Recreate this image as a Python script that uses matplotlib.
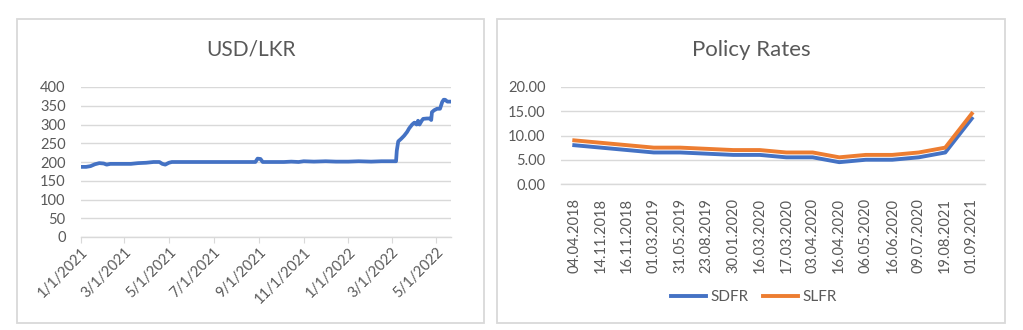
import matplotlib
matplotlib.use("Agg")
import matplotlib.pyplot as plt
from matplotlib.patches import Rectangle
import pandas as pd

plt.rcParams['font.family'] = ['Lato', 'DejaVu Sans']

# USD/LKR exchange rate
fx_dates = [
    "2021-01-01", "2021-01-08", "2021-01-14", "2021-01-20", "2021-01-26",
    "2021-02-01", "2021-02-05", "2021-02-10", "2021-02-20", "2021-03-01",
    "2021-03-10", "2021-03-20", "2021-03-31", "2021-04-10", "2021-04-18",
    "2021-04-22", "2021-04-26", "2021-05-01", "2021-05-05", "2021-05-20",
    "2021-06-10", "2021-07-01", "2021-07-20", "2021-08-10", "2021-08-27",
    "2021-08-30", "2021-09-03", "2021-09-06", "2021-09-20", "2021-10-05",
    "2021-10-15", "2021-10-25", "2021-11-01", "2021-11-15", "2021-12-01",
    "2021-12-15", "2022-01-01", "2022-01-15", "2022-02-01", "2022-02-15",
    "2022-03-07", "2022-03-08", "2022-03-10", "2022-03-14", "2022-03-18",
    "2022-03-22", "2022-03-25", "2022-03-29", "2022-04-01", "2022-04-04",
    "2022-04-06", "2022-04-08", "2022-04-11", "2022-04-13", "2022-04-18",
    "2022-04-22", "2022-04-24", "2022-04-25", "2022-04-28", "2022-05-02",
    "2022-05-06", "2022-05-09", "2022-05-11", "2022-05-13", "2022-05-16",
    "2022-05-21",
]
fx_values = [
    187, 187, 189, 194, 197,
    196, 193, 195, 195, 195,
    195, 197, 198, 200, 200,
    195, 193, 198, 200, 200,
    200, 200, 200, 200, 200,
    209, 208, 200, 200, 200,
    201, 200, 202, 201, 202,
    201, 201, 202, 201, 202,
    202, 230, 255, 262, 270,
    280, 290, 300, 305, 300,
    310, 300, 310, 315, 316,
    316, 312, 333, 338, 342,
    342, 360, 366, 366, 361,
    361,
]

# Central bank policy rates
rate_dates = [
    "04.04.2018", "14.11.2018", "16.11.2018", "01.03.2019", "31.05.2019",
    "23.08.2019", "30.01.2020", "16.03.2020", "17.03.2020", "03.04.2020",
    "16.04.2020", "06.05.2020", "16.06.2020", "09.07.2020", "19.08.2021",
    "01.09.2021",
]
sdfr = [8.0, 7.5, 7.0, 6.5, 6.5, 6.25, 6.0, 6.0, 5.5, 5.5,
        4.5, 5.0, 5.0, 5.5, 6.5, 13.5]
slfr = [9.0, 8.5, 8.0, 7.5, 7.5, 7.25, 7.0, 7.0, 6.5, 6.5,
        5.5, 6.0, 6.0, 6.5, 7.5, 14.5]

BLUE = "#4472C4"
ORANGE = "#ED7D31"
TXT = "#595959"
GRID = "#D9D9D9"

W, H = 1023, 330
fig = plt.figure(figsize=(W / 100, H / 100), dpi=100)


def fx(x0, y0, x1, y1):
    """Pixel box (top-left origin) to figure fraction rect."""
    return [x0 / W, 1 - y1 / H, (x1 - x0) / W, (y1 - y0) / H]


# Chart frames
for x0, x1 in [(17, 484), (497, 1005)]:
    fig.patches.append(Rectangle((x0 / W, 1 - 323 / H), (x1 - x0) / W, (323 - 19) / H,
                                 transform=fig.transFigure, fill=False,
                                 edgecolor=GRID, linewidth=1.3))


def style(ax):
    for s in ["top", "right", "left"]:
        ax.spines[s].set_visible(False)
    ax.spines["bottom"].set_color(GRID)
    ax.spines["bottom"].set_linewidth(1.0)
    ax.grid(axis="y", color=GRID, linewidth=1.0)
    ax.set_axisbelow(True)
    ax.tick_params(axis="y", length=0, pad=11, labelsize=10.5, labelcolor=TXT)


# Left: USD/LKR
ax1 = fig.add_axes(fx(81, 87, 451, 237))
style(ax1)
d = pd.to_datetime(fx_dates)
ax1.plot(d, fx_values, color=BLUE, linewidth=2.7, solid_joinstyle="round")
ax1.set_ylim(0, 400)
ax1.set_yticks(range(0, 401, 50))
ax1.set_xlim(pd.Timestamp("2021-01-01"), pd.Timestamp("2022-05-21"))
ticks = pd.date_range("2021-01-01", "2022-05-01", freq="2MS")
ax1.set_xticks(ticks)
ax1.set_xticklabels([f"{t.month}/{t.day}/{t.year}" for t in ticks])
ax1.tick_params(axis="x", length=4, color=GRID, pad=2, labelsize=10.5,
                labelcolor=TXT)
for lab in ax1.get_xticklabels():
    lab.set_rotation(45)
    lab.set_ha("right")
    lab.set_rotation_mode("anchor")
fig.text(250.5 / W, 1 - 50 / H, "USD/LKR", ha="center", va="center",
         fontsize=15, color=TXT)

# Right: policy rates
ax2 = fig.add_axes(fx(561, 87, 985, 184))
style(ax2)
xs = range(len(rate_dates))
ax2.plot(xs, sdfr, color=BLUE, linewidth=2.8, label="SDFR", solid_joinstyle="round")
ax2.plot(xs, slfr, color=ORANGE, linewidth=2.8, label="SLFR", solid_joinstyle="round")
ax2.set_ylim(0, 20)
ax2.set_yticks([0, 5, 10, 15, 20])
ax2.set_yticklabels([f"{v:.2f}" for v in [0, 5, 10, 15, 20]])
ax2.set_xlim(-0.5, len(rate_dates) - 0.5)
ax2.set_xticks(list(xs))
ax2.set_xticklabels(rate_dates, rotation=90)
ax2.tick_params(axis="x", length=0, pad=10, labelsize=10.5, labelcolor=TXT)
fig.text(751 / W, 1 - 50 / H, "Policy Rates", ha="center", va="center",
         fontsize=16, color=TXT)
leg = fig.legend(handles=ax2.get_lines(), loc="center", ncol=2,
                 bbox_to_anchor=(754 / W, 1 - 297 / H), frameon=False,
                 fontsize=11, handlelength=2.3, handletextpad=0.3,
                 columnspacing=0.9, borderpad=0)
for t in leg.get_texts():
    t.set_color(TXT)

fig.savefig("out.png", dpi=100, facecolor="white")
